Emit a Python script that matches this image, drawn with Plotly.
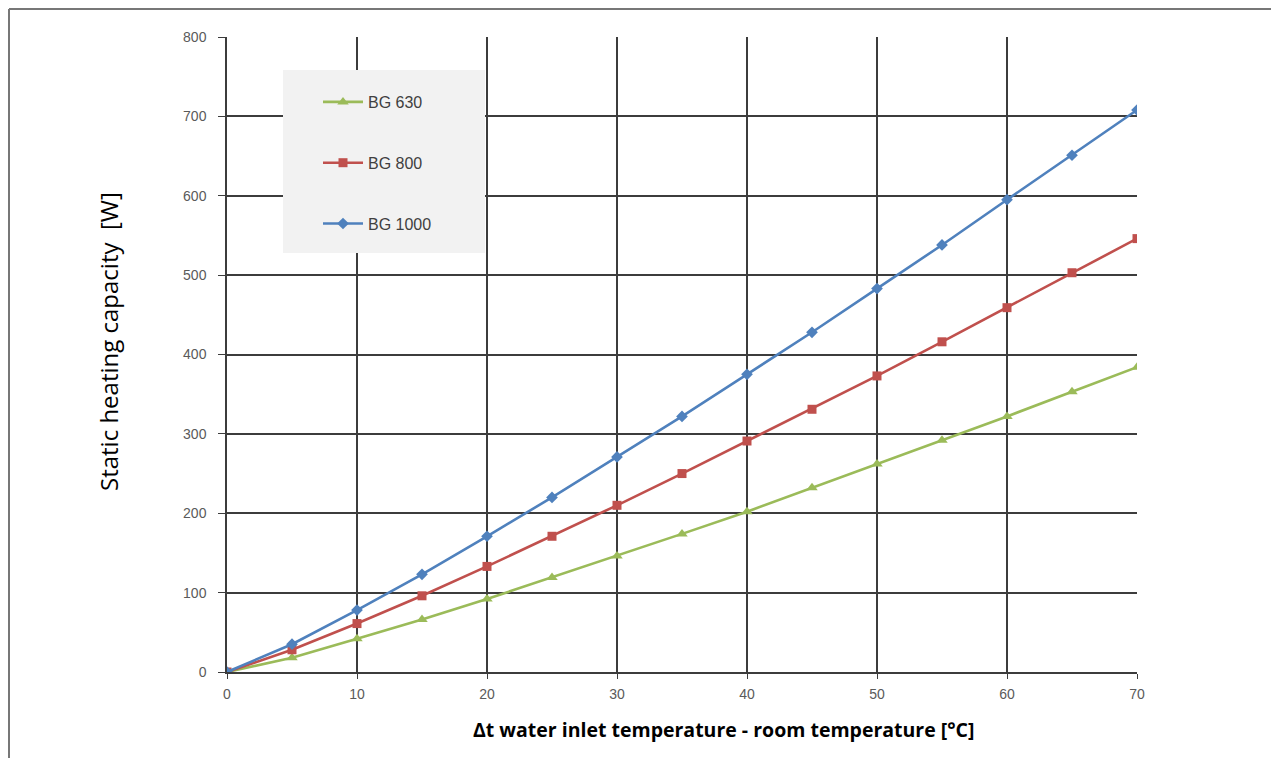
import plotly.graph_objects as go

x_vals = [0, 5, 10, 15, 20, 25, 30, 35, 40, 45, 50, 55, 60, 65, 70]
bg630 = [0, 18, 42, 66, 92, 119, 146, 174, 202, 232, 262, 292, 322, 353, 384]
bg800 = [0, 28, 61, 96, 133, 171, 210, 250, 291, 331, 373, 416, 459, 503, 546]
bg1000 = [0, 35, 78, 123, 171, 220, 271, 322, 375, 428, 483, 538, 595, 651, 708]

x_ticks = [0, 10, 20, 30, 40, 50, 60, 70]
y_ticks = [0, 100, 200, 300, 400, 500, 600, 700, 800]

series = [
    ("BG 630", bg630, "#9bbb59", "triangle-up", 10),
    ("BG 800", bg800, "#c0504d", "square", 9),
    ("BG 1000", bg1000, "#4f81bd", "diamond", 9),
]

# page offset of the figure (browser body margin)
O = 8
W, H = 1279 - O, 758 - O
# plot area in page pixels
PL, PR, PT, PB = 227, 1137, 37, 672
L, T = PL - O, PT - O
R, B = W - (PR - O), H - (PB - O)
pw, ph = W - L - R, H - T - B

def px(xp):
    return (xp - PL) / pw

def py(yp):
    return (PB - yp) / ph

fig = go.Figure()
for i, (name, vals, col, sym, sz) in enumerate(series):
    fig.add_trace(go.Scatter(
        x=x_vals, y=vals, name=name, mode="lines+markers",
        line=dict(color=col, width=2.6),
        marker=dict(symbol=sym, size=sz, color=col),
        legendgroup=f"g{i}",
    ))

grid = "#3c3c3c"
tickfont = dict(family="Liberation Sans", size=14, color="#5a5a5a")
fig.update_layout(
    width=W, height=H,
    margin=dict(l=L, r=R, t=T, b=B),
    paper_bgcolor="white", plot_bgcolor="white",
    showlegend=True,
    legend=dict(
        x=px(318), y=py(85), xanchor="left", yanchor="top",
        bgcolor="rgba(0,0,0,0)",
        font=dict(family="Liberation Sans", size=16, color="#404040"),
        tracegroupgap=37, itemwidth=40,
    ),
    xaxis=dict(
        range=[0, 70], tickvals=x_ticks, showgrid=True, gridcolor=grid, gridwidth=1.5,
        showline=True, linecolor=grid, linewidth=1.5, ticks="outside", ticklen=5,
        tickcolor=grid, zeroline=False, ticklabelstandoff=3,
        tickfont=tickfont,
    ),
    yaxis=dict(
        range=[0, 800], tickvals=y_ticks, showgrid=True, gridcolor=grid, gridwidth=1.5,
        showline=True, linecolor=grid, linewidth=1.5, ticks="outside", ticklen=7,
        tickcolor=grid, zeroline=False, ticklabelstandoff=9,
        tickfont=tickfont,
    ),
    annotations=[
        dict(text="Static heating capacity  [W]", x=px(108), y=py(342), xref="paper", yref="paper",
             showarrow=False, textangle=-90, xanchor="center", yanchor="middle",
             font=dict(family="Open Sans", size=24, color="black")),
        dict(text="<b>Δt water inlet temperature - room temperature [°C]</b>", x=px(723), y=py(729),
             xref="paper", yref="paper", showarrow=False, xanchor="center", yanchor="middle",
             font=dict(family="Open Sans", size=19.5, color="black")),
    ],
    shapes=[
        dict(type="rect", xref="paper", yref="paper", x0=px(283), x1=px(485), y0=py(253), y1=py(70),
             fillcolor="#f2f2f2", line=dict(width=0), layer="above"),
        dict(type="line", xref="paper", yref="paper", x0=px(9), x1=px(1279), y0=py(9), y1=py(9),
             line=dict(color="#777777", width=2)),
        dict(type="line", xref="paper", yref="paper", x0=px(9), x1=px(9), y0=py(9), y1=py(758),
             line=dict(color="#777777", width=2)),
    ],
)

fig.write_html("out.html")
